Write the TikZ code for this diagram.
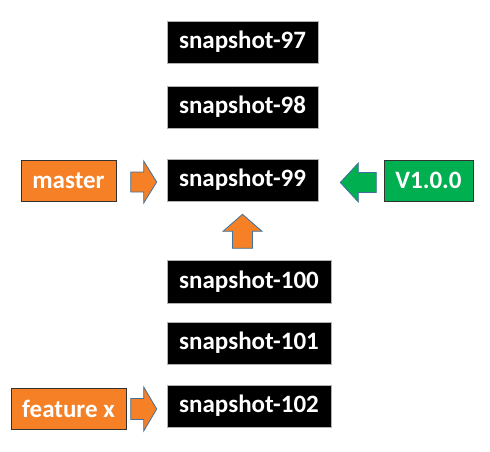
\documentclass[tikz,border=0pt]{standalone}
\usepackage{fontspec}
\setmainfont{Carlito}
\usetikzlibrary{calc}
\definecolor{snaporange}{RGB}{245,128,37}
\definecolor{snapgreen}{RGB}{0,176,80}
\definecolor{arrowedge}{RGB}{65,113,156}
\definecolor{labeledge}{RGB}{50,50,50}
\tikzset{
  snapbox/.style={rectangle, fill=black, draw=gray!60, line width=0.6pt, text=white,
    font=\fontsize{25}{28}\selectfont\bfseries, inner sep=0pt, minimum height=42pt},
  refbox/.style={rectangle, draw=labeledge, line width=1pt, text=white,
    font=\fontsize{25}{28}\selectfont\bfseries, inner sep=0pt, minimum height=41pt},
  blockarrow/.style={draw=arrowedge, line width=0.8pt, line join=miter},
}
\begin{document}
\begin{tikzpicture}[x=1pt,y=-1pt]
\useasboundingbox (0,0) rectangle (490,451);
% snapshot column
\node[snapbox, minimum width=151pt] (s97)  at (242.5,42)  {snapshot-97};
\node[snapbox, minimum width=151pt] (s98)  at (242.5,107) {snapshot-98};
\node[snapbox, minimum width=151pt] (s99)  at (242.5,180) {snapshot-99};
\node[snapbox, minimum width=164pt, minimum height=43pt] (s100) at (249,281.5) {snapshot-100};
\node[snapbox, minimum width=164pt] (s101) at (249,343) {snapshot-101};
\node[snapbox, minimum width=164pt] (s102) at (249,406) {snapshot-102};
% references
\node[refbox, fill=snaporange, minimum width=95pt]  (master) at (68.5,180.5) {master};
\node[refbox, fill=snapgreen,  minimum width=89pt]  (tag)    at (428.5,180.5) {V1.0.0};
\node[refbox, fill=snaporange, minimum width=115pt] (feat)   at (68.5,408.5) {feature x};
% master -> snapshot-99
\coordinate (a1) at ($(s99.west)+(-10,2)$);
\draw[blockarrow, fill=snaporange]
  ($(a1)+(-26,-10)$) -- ($(a1)+(-13,-10)$) -- ($(a1)+(-13,-21)$) -- (a1)
  -- ($(a1)+(-13,21)$) -- ($(a1)+(-13,10)$) -- ($(a1)+(-26,10)$) -- cycle;
% V1.0.0 -> snapshot-99
\coordinate (a2) at ($(s99.east)+(22,2.5)$);
\draw[blockarrow, fill=snapgreen]
  ($(a2)+(36,-10)$) -- ($(a2)+(18,-10)$) -- ($(a2)+(18,-19.5)$) -- (a2)
  -- ($(a2)+(18,19.5)$) -- ($(a2)+(18,10)$) -- ($(a2)+(36,10)$) -- cycle;
% snapshot-100 -> snapshot-99
\coordinate (a3) at ($(s99.south)+(0,13)$);
\draw[blockarrow, fill=snaporange]
  ($(a3)+(-10,34)$) -- ($(a3)+(-10,17)$) -- ($(a3)+(-19.5,17)$) -- (a3)
  -- ($(a3)+(19.5,17)$) -- ($(a3)+(10,17)$) -- ($(a3)+(10,34)$) -- cycle;
% feature x -> snapshot-102
\coordinate (a4) at ($(s102.west)+(-10,3)$);
\draw[blockarrow, fill=snaporange]
  ($(a4)+(-26,-10.5)$) -- ($(a4)+(-13,-10.5)$) -- ($(a4)+(-13,-22)$) -- (a4)
  -- ($(a4)+(-13,22)$) -- ($(a4)+(-13,10.5)$) -- ($(a4)+(-26,10.5)$) -- cycle;
\end{tikzpicture}
\end{document}
